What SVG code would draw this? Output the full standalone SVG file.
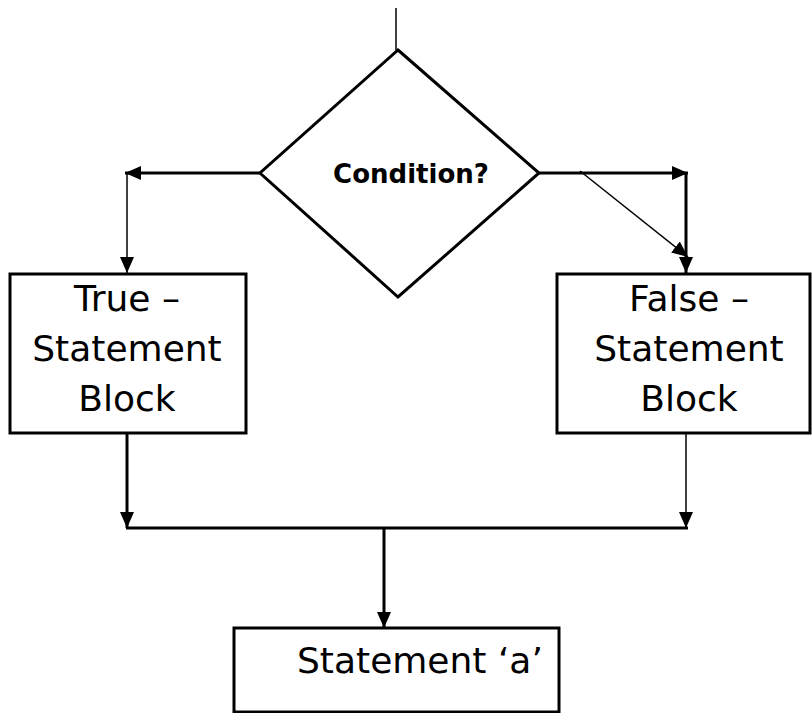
<svg xmlns="http://www.w3.org/2000/svg" width="812" height="713" viewBox="0 0 812 713">
<style>
.box{fill:#fff;stroke:#000;stroke-width:3}
.thick{fill:none;stroke:#000;stroke-width:3}
.thin{fill:none;stroke:#000;stroke-width:1.5}
.t{font-family:"DejaVu Sans",sans-serif;font-size:36px;fill:#000;text-anchor:middle}
.c{font-family:"DejaVu Sans",sans-serif;font-size:26px;font-weight:bold;fill:#000;text-anchor:middle}
</style>
<defs>
<marker id="ah" markerUnits="userSpaceOnUse" markerWidth="16" markerHeight="14" refX="16" refY="7" orient="auto">
<path d="M0,0 L16,7 L0,14 Z" fill="#000"/>
</marker>
</defs>
<rect width="812" height="713" fill="#fff"/>
<g id="connectors">
<line class="thin" x1="396" y1="8" x2="396" y2="50"/>
<line class="thick" x1="260" y1="173" x2="125" y2="173" marker-end="url(#ah)"/>
<line class="thin" x1="127" y1="173" x2="127" y2="273" marker-end="url(#ah)"/>
<line class="thick" x1="539" y1="173" x2="688" y2="173" marker-end="url(#ah)"/>
<line class="thick" x1="686" y1="173" x2="686" y2="273" marker-end="url(#ah)"/>
<line class="thin" x1="580" y1="171" x2="688" y2="257" marker-end="url(#ah)"/>
<line class="thick" x1="127" y1="433" x2="127" y2="528" marker-end="url(#ah)"/>
<line class="thin" x1="686" y1="433" x2="686" y2="528" marker-end="url(#ah)"/>
<line class="thick" x1="126" y1="528" x2="688" y2="528"/>
<line class="thick" x1="384" y1="528" x2="384" y2="628" marker-end="url(#ah)"/>
</g>
<g id="condition">
<polygon class="box" points="398,50 539,173 398,297 260,173"/>
<text class="c" x="411" y="183">Condition?</text>
</g>
<g id="true-block">
<rect class="box" x="10" y="274" width="236" height="159"/>
<text class="t" x="127" y="311">True –</text>
<text class="t" x="127" y="361">Statement</text>
<text class="t" x="127" y="411">Block</text>
</g>
<g id="false-block">
<rect class="box" x="557" y="274" width="253" height="159"/>
<text class="t" x="689" y="311">False –</text>
<text class="t" x="689" y="361">Statement</text>
<text class="t" x="689" y="411">Block</text>
</g>
<g id="statement-a">
<rect class="box" x="234" y="628" width="325" height="84"/>
<text class="t" x="297" y="673" style="text-anchor:start">Statement ‘a’</text>
</g>
</svg>
